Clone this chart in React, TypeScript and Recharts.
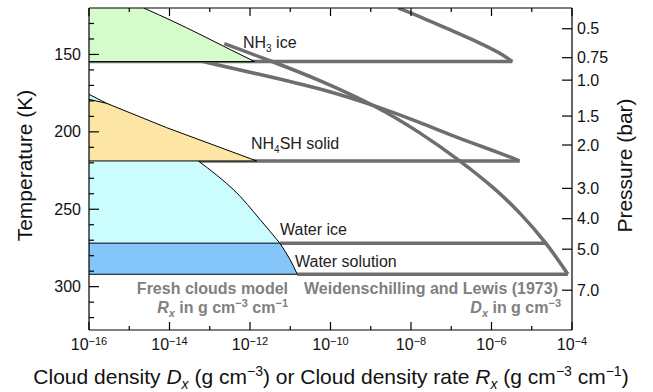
import React from "react";
import { ComposedChart, Area, XAxis, YAxis } from "recharts";

const W = 653;
const H = 392;
const FONT = '"Liberation Sans", Arial, Helvetica, sans-serif';
const GRAY = "#6e6e6e";
const NOTE = "#808080";

// temperature axis (left) and its minor/major ticks
const T_DOMAIN = [120, 328];
const T_TICKS = [130, 140, 150, 160, 170, 180, 190, 200, 210, 220, 230, 240, 250, 260, 270, 280, 290, 300, 310, 320];

// pressure axis (right): labels and the temperature each sits at
const P_LABELS = ["0.5", "0.75", "1.0", "1.5", "2.0", "3.0", "4.0", "5.0", "7.0"];
const P_TEMPS = [133.4, 152.1, 166.6, 189.8, 208.5, 236.5, 256.1, 275.8, 302.3];

// density axis decades
const X_EXPONENTS = [-16, -15, -14, -13, -12, -11, -10, -9, -8, -7, -6, -5, -4];
const X_TICKS = X_EXPONENTS.map((e) => Math.pow(10, e));
const X_MIN = X_TICKS[0];

// fresh clouds model (rate R_x, g cm^-3 cm^-1)
const NH3_FRESH_T = [120, 128.5, 137, 146.8, 154.6];
const NH3_FRESH_R = [2.3e-15, 1.2e-14, 5.7e-14, 3.2e-13, 1.3e-12];
const NH4SH_FRESH_T = [179, 181.6, 197.3, 218.8];
const NH4SH_FRESH_R = [1e-16, 2.75e-16, 8.5e-15, 1.46e-12];
const ICE_FRESH_T = [175.8, 181.6, 218.8, 237.1, 256.5, 271.9];
const ICE_FRESH_R = [1e-16, 2.75e-16, 5.2e-14, 3.8e-13, 1.76e-12, 5.5e-12];
const SOL_FRESH_T = [271.9, 282.3, 292];
const SOL_FRESH_R = [5.5e-12, 9.8e-12, 1.49e-11];

// Weidenschilling & Lewis (1973) densities D_x, g cm^-3
const NH3_WL_T = [120, 125.5, 135, 142.5, 148.9, 154.6];
const NH3_WL_D = [4.8e-9, 1.67e-8, 1.11e-7, 5.1e-7, 1.6e-6, 3.3e-6];
const NH4SH_WL_T = [154.6, 162.9, 172.6, 183.5, 193.9, 204.5, 213.5, 218.8];
const NH4SH_WL_D = [6.8e-14, 1.76e-12, 7.2e-11, 1.42e-9, 1.66e-8, 1.63e-7, 1.6e-6, 5.0e-6];
const WATER_WL_T = [143, 154.7, 166.5, 183.5, 200.3, 218.4, 236.5, 251.9, 271.9, 292];
const WATER_WL_D = [2.3e-13, 3.7e-12, 5.4e-11, 1.42e-9, 1.66e-8, 1.63e-7, 1.21e-6, 5.0e-6, 2.36e-5, 7.9e-5];

// cloud base levels
const NH3_BASE = 154.6;
const NH4SH_BASE = 218.8;
const ICE_BASE = 271.9;
const SOL_BASE = 292;

type Pt = { t: number; v: number };
type Curve = "basis" | "monotone" | "linear";
const pts = (t: number[], v: number[]): Pt[] => t.map((tt, i) => ({ t: tt, v: v[i] }));
const flat = (t: number, from: number, to: number): Pt[] => [
  { t, v: from },
  { t, v: to },
];
const last = (a: number[]) => a[a.length - 1];

function LeftTick({ x, y, payload }: any) {
  const major = payload.value % 50 === 0;
  return (
    <g>
      <line x1={x} x2={x + (major ? 10 : 5)} y1={y} y2={y} stroke="#000" strokeWidth={1.2} />
      {major && (
        <text x={x - 8} y={y + 5.5} textAnchor="end" fontSize={16} fontFamily={FONT} fill="#111">
          {payload.value}
        </text>
      )}
    </g>
  );
}

function RightTick({ x, y, index }: any) {
  return (
    <g>
      <line x1={x - 10} x2={x} y1={y} y2={y} stroke="#000" strokeWidth={1.2} />
      <text x={x + 5} y={y + 5.5} textAnchor="start" fontSize={16} fontFamily={FONT} fill="#111">
        {P_LABELS[index]}
      </text>
    </g>
  );
}

function BottomTick({ x, y, payload }: any) {
  const exp = Math.round(Math.log10(payload.value));
  const major = exp % 2 === 0;
  return (
    <g>
      <line x1={x} x2={x} y1={y} y2={y - (major ? 8 : 4)} stroke="#000" strokeWidth={1.2} />
      {major && (
        <text x={x} y={y + 20} textAnchor="middle" fontSize={16} fontFamily={FONT} fill="#111">
          10
          <tspan dy={-5.5} fontSize={11}>{`\u2212${-exp}`}</tspan>
        </text>
      )}
    </g>
  );
}

function TopTick({ x, y, payload }: any) {
  const exp = Math.round(Math.log10(payload.value));
  const major = exp % 2 === 0;
  return <line x1={x} x2={x} y1={y} y2={y + (major ? 8 : 4)} stroke="#000" strokeWidth={1.2} />;
}

// gray reference curve / level, outline only
function wl(key: string, data: Pt[], type: Curve) {
  return (
    <Area
      key={key}
      data={data}
      dataKey="v"
      type={type}
      stroke={GRAY}
      strokeWidth={3.5}
      fill="none"
      baseValue="dataMin"
      dot={false}
      activeDot={false}
      isAnimationActive={false}
    />
  );
}

function region(key: string, data: Pt[], fill: string, type: Curve) {
  return (
    <Area
      key={key}
      data={data}
      dataKey="v"
      type={type}
      stroke="#000"
      strokeWidth={1}
      fill={fill}
      fillOpacity={1}
      baseValue="dataMin"
      dot={false}
      activeDot={false}
      isAnimationActive={false}
    />
  );
}

function edge(key: string, data: Pt[]) {
  return (
    <Area
      key={key}
      data={data}
      dataKey="v"
      type="linear"
      stroke="#000"
      strokeWidth={1}
      fill="none"
      baseValue="dataMin"
      dot={false}
      activeDot={false}
      isAnimationActive={false}
    />
  );
}

export default function App() {
  return (
    <div style={{ position: "absolute", left: 0, top: 0, width: W, height: H, background: "#fff" }}>
      <ComposedChart
        width={W}
        height={H}
        layout="vertical"
        margin={{ top: 0, right: 0, bottom: 0, left: 0 }}
        style={{ fontFamily: FONT }}
      >
        <XAxis
          type="number"
          scale="log"
          domain={[X_MIN, last(X_TICKS)]}
          allowDataOverflow
          ticks={X_TICKS}
          interval={0}
          height={62}
          tickSize={0}
          tickMargin={0}
          tickLine={false}
          axisLine={{ stroke: "#000", strokeWidth: 1.2 }}
          tick={(p: any) => <BottomTick {...p} />}
        />
        <XAxis
          xAxisId="top"
          orientation="top"
          type="number"
          scale="log"
          domain={[X_MIN, last(X_TICKS)]}
          allowDataOverflow
          ticks={X_TICKS}
          interval={0}
          height={8}
          tickSize={0}
          tickMargin={0}
          tickLine={false}
          axisLine={{ stroke: "#000", strokeWidth: 1.2 }}
          tick={(p: any) => <TopTick {...p} />}
        />
        <YAxis
          type="number"
          dataKey="t"
          domain={T_DOMAIN}
          allowDataOverflow
          ticks={T_TICKS}
          interval={0}
          width={89}
          tickSize={0}
          tickMargin={0}
          tickLine={false}
          axisLine={{ stroke: "#000", strokeWidth: 1.2 }}
          tick={(p: any) => <LeftTick {...p} />}
        />
        <YAxis
          yAxisId="p"
          orientation="right"
          type="number"
          dataKey="t"
          domain={T_DOMAIN}
          allowDataOverflow
          ticks={P_TEMPS}
          interval={0}
          width={81}
          tickSize={0}
          tickMargin={0}
          tickLine={false}
          axisLine={{ stroke: "#000", strokeWidth: 1.2 }}
          tick={(p: any) => <RightTick {...p} />}
        />

        {/* Weidenschilling & Lewis curves and base levels */}
        {wl("wl-nh3-base", flat(NH3_BASE, X_MIN, last(NH3_WL_D)), "linear")}
        {wl("wl-nh3", pts(NH3_WL_T, NH3_WL_D), "basis")}
        {wl("wl-nh4sh-base", flat(NH4SH_BASE, X_MIN, last(NH4SH_WL_D)), "linear")}
        {wl("wl-nh4sh", pts(NH4SH_WL_T, NH4SH_WL_D), "basis")}
        {wl("wl-ice-base", flat(ICE_BASE, last(ICE_FRESH_R), WATER_WL_D[8]), "linear")}
        {wl("wl-sol-base", flat(SOL_BASE, last(SOL_FRESH_R), last(WATER_WL_D)), "linear")}
        {wl("wl-water", pts(WATER_WL_T, WATER_WL_D), "basis")}

        {/* fresh clouds model */}
        {region("ice", pts(ICE_FRESH_T, ICE_FRESH_R), "#ccfdfe", "monotone")}
        {region("sol", pts(SOL_FRESH_T, SOL_FRESH_R), "#84c5fa", "monotone")}
        {region("nh4sh", pts(NH4SH_FRESH_T, NH4SH_FRESH_R), "#fde5a6", "linear")}
        {region("nh3", pts(NH3_FRESH_T, NH3_FRESH_R), "#d5fbca", "monotone")}
        {edge("nh3-edge", flat(NH3_BASE, X_MIN, last(NH3_FRESH_R)))}
        {edge("nh4sh-edge", flat(NH4SH_BASE, X_MIN, last(NH4SH_FRESH_R)))}
        {edge("ice-edge", flat(ICE_BASE, X_MIN, last(ICE_FRESH_R)))}
        {edge("sol-edge", flat(SOL_BASE, X_MIN, last(SOL_FRESH_R)))}

        {/* layer labels */}
        <text x={243} y={48} fontSize={16} fontFamily={FONT} fill="#222">
          NH<tspan dy={4} fontSize={10}>3</tspan>
          <tspan dy={-4}> ice</tspan>
        </text>
        <text x={251} y={149} fontSize={16} fontFamily={FONT} fill="#222">
          NH<tspan dy={4} fontSize={10}>4</tspan>
          <tspan dy={-4}>SH solid</tspan>
        </text>
        <text x={280} y={235} fontSize={16} fontFamily={FONT} fill="#222">
          Water ice
        </text>
        <text x={295} y={266.5} fontSize={16} fontFamily={FONT} fill="#222">
          Water solution
        </text>

        {/* source notes */}
        <text x={288} y={294} textAnchor="end" fontSize={16} fontWeight="bold" fontFamily={FONT} fill={NOTE}>
          Fresh clouds model
        </text>
        <text x={288} y={313} textAnchor="end" fontSize={16} fontWeight="bold" fontFamily={FONT} fill={NOTE}>
          <tspan fontStyle="italic">R</tspan>
          <tspan dy={4} fontSize={11} fontStyle="italic">x</tspan>
          <tspan dy={-4}> in g cm</tspan>
          <tspan dy={-6} fontSize={11}>{"\u22123"}</tspan>
          <tspan dy={6}> cm</tspan>
          <tspan dy={-6} fontSize={11}>{"\u22121"}</tspan>
        </text>
        <text x={558} y={294} textAnchor="end" fontSize={16} fontWeight="bold" fontFamily={FONT} fill={NOTE}>
          Weidenschilling and Lewis (1973)
        </text>
        <text x={561} y={313} textAnchor="end" fontSize={16} fontWeight="bold" fontFamily={FONT} fill={NOTE}>
          <tspan fontStyle="italic">D</tspan>
          <tspan dy={4} fontSize={11} fontStyle="italic">x</tspan>
          <tspan dy={-4}> in g cm</tspan>
          <tspan dy={-6} fontSize={11}>{"\u22123"}</tspan>
        </text>

        {/* axis titles */}
        <text transform="rotate(-90)" x={-165.5} y={32} textAnchor="middle" fontSize={21} fontFamily={FONT} fill="#111">
          Temperature (K)
        </text>
        <text transform="rotate(-90)" x={-165.5} y={632} textAnchor="middle" fontSize={21} fontFamily={FONT} fill="#111">
          Pressure (bar)
        </text>
        <text x={331} y={384} textAnchor="middle" fontSize={21} fontFamily={FONT} fill="#111">
          Cloud density <tspan fontStyle="italic">D</tspan>
          <tspan dy={5} fontSize={14} fontStyle="italic">x</tspan>
          <tspan dy={-5}> (g cm</tspan>
          <tspan dy={-8} fontSize={14}>{"\u22123"}</tspan>
          <tspan dy={8}>) or Cloud density rate </tspan>
          <tspan fontStyle="italic">R</tspan>
          <tspan dy={5} fontSize={14} fontStyle="italic">x</tspan>
          <tspan dy={-5}> (g cm</tspan>
          <tspan dy={-8} fontSize={14}>{"\u22123"}</tspan>
          <tspan dy={8}> cm</tspan>
          <tspan dy={-8} fontSize={14}>{"\u22121"}</tspan>
          <tspan dy={8}>)</tspan>
        </text>
      </ComposedChart>
    </div>
  );
}
